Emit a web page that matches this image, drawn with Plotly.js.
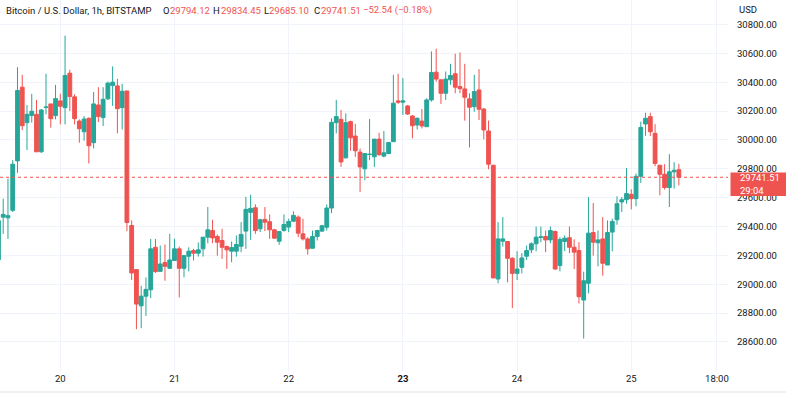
<!DOCTYPE html>
<html>
<head>
<meta charset="utf-8">
<script src="https://cdn.plot.ly/plotly-3.0.1.min.js"></script>
<style>html,body{margin:0;padding:0;background:#fff;}#chart{width:786px;height:395px;}</style>
</head>
<body>
<div id="chart"></div>
<script>
// hourly candles, first candle 2023-07-19 11:00
const startTime = '2023-07-19T11:00:00';
const openP = [29170,29465,29460,29512,29855,30366,30120,30169,30178,29918,30225,30250,30169,
30271,30224,30463,30299,30131,30057,30150,29981,30243,30155,30285,30377,30375,30224,30340,29407,29101,28850,28917,28961,29256,29089,29150,29110,29164,29245,29110,29194,29233,29215,29245,29326,29372,29331,29303,29261,29229,29229,29263,29368,29498,29530,29384,29449,29433,29377,29298,29372,29396,29437,29465,29349,29314,29249,29331,29368,29395,29528,30120,
30143,29876,30127,30027,29916,29800,29899,29883,30006,29888,29906,29988,30271,30262,30236,30166,30104,30131,30092,30278,30470,30417,30324,30417,30459,30370,30354,30285,30231,30347,30215,30062,29825,29036,29298,29296,29180,29075,29117,29194,29238,29280,29324,29331,29307,29365,29129,29296,29322,29256,29233,28890,29006,29358,29287,29314,29133,29361,29447,29570,29586,29623,29593,29748,30111,30162,30046,29825,29762,29670,29779,29794.12];
const highP = [29465,29593,29732,29860,30505,30452,30243,30320,30278,30215,30459,30250,30382,
30320,30723,30487,30317,30143,30166,30157,30333,30366,30366,30405,30510,30424,30389,30340,29442,29105,28989,29047,29314,29314,29268,29275,29349,29314,29261,29198,29256,29245,29289,29326,29535,29447,29345,29384,29268,29296,29338,29430,29605,29621,29554,29454,29535,29484,29384,29365,29484,29454,29505,29477,29454,29326,29372,29377,29412,29553,30150,30278,
30208,30185,30134,30111,29941,29906,30145,30006,30050,30062,29983,30452,30459,30429,30243,30173,30157,30215,30289,30614,30633,30422,30475,30528,30598,30607,30528,30324,30452,30491,30220,30134,29825,29431,29465,29296,29187,29229,29215,29268,29291,29400,29400,29372,29400,29372,29326,29338,29400,29311,29291,29087,29604,29563,29372,29465,29442,29454,29609,29604,29806,29658,29767,30127,30189,30189,30110,29825,29832,29902,29846,29834.45];
const lowP = [29152,29349,29314,29500,29772,30069,29930,30120,29918,29911,30178,30085,30143,
30108,30108,30201,30108,29981,29995,29837,29941,30125,30097,30278,30236,30046,30073,29368,29029,28688,28695,28780,28904,29078,29089,29024,29110,29164,28908,29047,29089,29164,29191,29191,29284,29284,29198,29175,29106,29152,29191,29222,29245,29307,29349,29361,29368,29314,29314,29273,29365,29361,29430,29326,29303,29205,29249,29303,29361,29372,29493,30046,
29813,29871,29925,29883,29639,29721,29860,29813,29888,29879,29902,29988,30250,30173,30173,30011,30073,30080,30092,30266,30405,30250,30278,30382,30324,30324,30134,29948,30196,30138,30004,29797,29043,29006,29261,29013,28834,29029,29075,29168,29215,29228,29291,29222,29284,29101,29089,29229,29215,29105,28866,28623,28936,29198,29124,29059,29133,29228,29412,29500,29558,29519,29540,29702,30029,30027,29818,29616,29656,29535,29663,29685.10];
const closeP = [29440,29484,29475,29832,30343,30099,30178,30199,29918,30208,30228,30148,30287,
30234,30447,30301,30148,30078,30145,29960,30250,30162,30282,30394,30401,30217,30338,29428,29078,28862,28917,28964,29245,29087,29140,29124,29168,29245,29110,29198,29229,29215,29238,29326,29377,29321,29291,29256,29238,29254,29275,29345,29519,29526,29372,29447,29430,29377,29319,29365,29414,29435,29477,29354,29314,29245,29331,29372,29405,29528,30122,30162,
29848,30120,30015,29925,29813,29906,29901,30006,29899,29911,29983,30255,30262,30271,30180,30099,30150,30097,30278,30468,30422,30324,30422,30447,30366,30356,30296,30227,30336,30213,30069,29832,29043,29314,29314,29180,29075,29105,29182,29233,29280,29326,29328,29307,29372,29105,29310,29319,29256,29222,28913,29024,29354,29291,29307,29145,29358,29435,29558,29586,29628,29593,29748,30087,30150,30057,29837,29762,29670,29779,29790,29741.51];

const priceTicks = [28600,28800,29000,29200,29400,29600,29800,30000,30200,30400,30600,30800];
const timeTickVals = ['2023-07-20 00:00','2023-07-21 00:00','2023-07-22 00:00','2023-07-23 00:00','2023-07-24 00:00','2023-07-25 00:00','2023-07-25 18:00'];
const timeTickText = ['20','21','22','<b>23</b>','24','25','18:00'];
const lastPrice = 29741.51;
const countdown = '29:04';
const headerTitle = 'Bitcoin / U.S. Dollar, 1h, BITSTAMP';
const headerO = '29794.12', headerH = '29834.45', headerL = '29685.10', headerC = '29741.51';
const headerChg = '\u221252.54 (\u22120.18%)';

function fmt(d){
  const p = n => String(n).padStart(2,'0');
  return d.getUTCFullYear()+'-'+p(d.getUTCMonth()+1)+'-'+p(d.getUTCDate())+' '+p(d.getUTCHours())+':00';
}
const t0 = Date.parse(startTime + 'Z');
const times = openP.map((_, i) => fmt(new Date(t0 + i*3600000)));

const UP = '#26a69a', DN = '#ef5350', TXT = '#131722', GRID = '#f0f3fa';
const W = 728, H = 371; // plot area in px
const FONT = 'Roboto, Arial, sans-serif';

const trace = {
  type: 'candlestick', x: times, open: openP, high: highP, low: lowP, close: closeP,
  increasing: {line: {color: UP, width: 1}, fillcolor: UP},
  decreasing: {line: {color: DN, width: 1}, fillcolor: DN},
  whiskerwidth: 0, hoverinfo: 'skip', showlegend: false
};

function px2x(px){ return px / W; }
function px2y(py){ return 1 - py / H; }
function ann(text, xpx, ypx, color, size, anchor){
  return {text: text, xref: 'paper', yref: 'paper', x: px2x(xpx), y: px2y(ypx),
    xanchor: anchor || 'left', yanchor: 'middle', showarrow: false,
    font: {family: FONT, size: size || 9.5, color: color}};
}

const layout = {
  width: 786, height: 395,
  margin: {l: 0, r: 58, t: 0, b: 24},
  paper_bgcolor: '#ffffff', plot_bgcolor: '#ffffff',
  boxgap: 0.2, boxgroupgap: 0,
  showlegend: false,
  xaxis: {
    type: 'date', range: ['2023-07-19 11:19:36', '2023-07-25 20:19:36'],
    rangeslider: {visible: false},
    tickmode: 'array', tickvals: timeTickVals, ticktext: timeTickText,
    showgrid: true, gridcolor: GRID, gridwidth: 1, zeroline: false,
    showline: false, ticks: '', tickfont: {family: FONT, size: 9.5, color: TXT},
    fixedrange: true
  },
  yaxis: {
    side: 'right', range: [28398, 30970.6],
    tickmode: 'array', tickvals: priceTicks, ticktext: priceTicks.map(v => v.toFixed(2)),
    showgrid: true, gridcolor: GRID, gridwidth: 1, zeroline: false,
    showline: false, ticks: '', ticklabelstandoff: 8,
    tickfont: {family: FONT, size: 9.5, color: TXT}, fixedrange: true
  },
  shapes: [
    {type: 'line', xref: 'paper', yref: 'y', x0: 0, x1: 1, y0: lastPrice, y1: lastPrice,
     line: {color: DN, width: 1, dash: 'dot'}, layer: 'above'},
    {type: 'rect', xref: 'paper', yref: 'paper', x0: px2x(730.5), x1: px2x(786), y0: px2y(172.5), y1: px2y(196),
     fillcolor: DN, line: {width: 0}, layer: 'above'},
    {type: 'line', xref: 'paper', yref: 'paper', x0: 0, x1: px2x(786), y0: px2y(392), y1: px2y(392),
     line: {color: '#e0e3eb', width: 1}, layer: 'above'}
  ],
  annotations: [
    ann(headerTitle, 4, 10, TXT),
    ann('O', 161, 10, TXT), ann(headerO, 168, 10, DN),
    ann('H', 211, 10, TXT), ann(headerH, 218.5, 10, DN),
    ann('L', 261.5, 10, TXT), ann(headerL, 267, 10, DN),
    ann('C', 311.5, 10, TXT), ann(headerC, 318.5, 10, DN),
    ann(headerChg, 360.5, 10, DN),
    ann('USD', 736.5, 9.5, TXT),
    ann(lastPrice.toFixed(2), 737.5, 177.5, '#ffffff'),
    ann(countdown, 737.5, 190, '#ffffff')
  ]
};

Plotly.newPlot('chart', [trace], layout, {displayModeBar: false, staticPlot: true});
</script>
</body>
</html>
